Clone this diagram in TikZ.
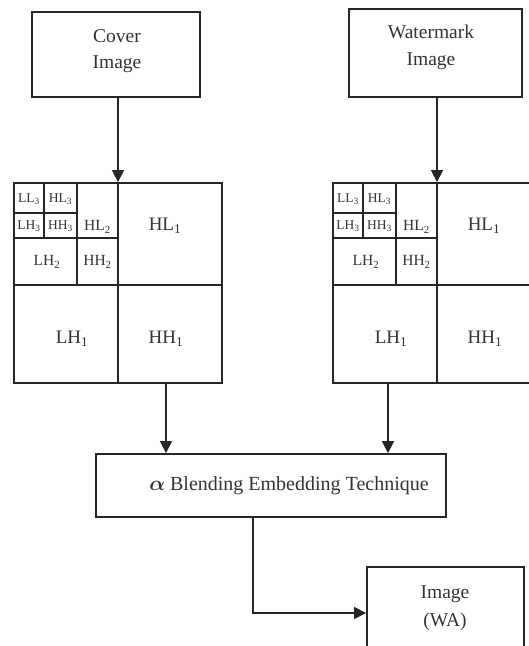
\documentclass[tikz,border=0pt]{standalone}
\usepackage{fontspec}
\setmainfont{Liberation Serif}
\usetikzlibrary{arrows.meta,calc}
\tikzset{
 box/.style={draw=black!85, line width=1.8pt, rectangle, inner sep=0pt},
 gl/.style={draw=black!85, line width=1.6pt},
 arr/.style={draw=black!85, line width=1.5pt, -{Triangle[length=12pt,width=12pt]}},
 lone/.style={font=\fontsize{19}{21}\selectfont, text=black!80, inner sep=0pt},
 ltwo/.style={font=\fontsize{15.5}{17}\selectfont, text=black!80, inner sep=0pt},
 lthree/.style={font=\fontsize{13.5}{15}\selectfont, text=black!80, inner sep=0pt},
 boxtext/.style={font=\fontsize{19.5}{26}\selectfont, text=black!80, inner sep=0pt, anchor=base},
}
\newcommand\dwtgrid[2]{%
 \begin{scope}[xshift=#1pt]
 \node[box, minimum width=208pt, minimum height=200pt] (#2) at (104,-283) {};
 \draw[gl] (104,-183) -- (104,-383);
 \draw[gl] (0,-285) -- (208,-285);
 \draw[gl] (63,-183) -- (63,-285);
 \draw[gl] (0,-238) -- (104,-238);
 \draw[gl] (30,-183) -- (30,-238);
 \draw[gl] (0,-213) -- (63,-213);
 \node[lthree] (#2ll3) at (15,-199) {LL\textsubscript{3}};
 \node[lthree] (#2hl3) at (46.5,-199) {HL\textsubscript{3}};
 \node[lthree] (#2lh3) at (15,-226) {LH\textsubscript{3}};
 \node[lthree] (#2hh3) at (46.5,-226) {HH\textsubscript{3}};
 \node[ltwo] (#2hl2) at (83.5,-227) {HL\textsubscript{2}};
 \node[ltwo] (#2lh2) at (33,-262) {LH\textsubscript{2}};
 \node[ltwo] (#2hh2) at (83.5,-262) {HH\textsubscript{2}};
 \node[lone] (#2hl1) at (151,-226) {HL\textsubscript{1}};
 \node[lone] (#2lh1) at (58,-339) {LH\textsubscript{1}};
 \node[lone] (#2hh1) at (152,-339) {HH\textsubscript{1}};
 \end{scope}}
\begin{document}
\begin{tikzpicture}[x=1pt,y=1pt]
\clip (0,0) rectangle (529,-646);
\fill[white] (0,0) rectangle (529,-646);
% source boxes
\node[box, minimum width=168pt, minimum height=85pt] (cover) at (116,-54.5) {};
\node[boxtext] (cover1) at (117,-42) {Cover};
\node[boxtext] (cover2) at (117,-68) {Image};
\node[box, minimum width=173pt, minimum height=88pt] (wm) at (435.5,-53) {};
\node[boxtext] (wm1) at (431,-38) {Watermark};
\node[boxtext] (wm2) at (431,-65) {Image};
% DWT grids
\dwtgrid{14}{gridL}
\dwtgrid{333}{gridR}
% blending box
\node[box, minimum width=350pt, minimum height=63pt] (blend) at (271,-485.5) {};
\node[font=\fontsize{20}{24}\selectfont, text=black!80, inner sep=0pt, anchor=base] (blendt) at (289,-490) {{\boldmath$\alpha$} Blending Embedding Technique};
% output box
\node[box, minimum width=157pt, minimum height=113pt] (out) at (445.5,-623.5) {};
\node[boxtext] (out1) at (445,-598) {Image};
\node[boxtext] (out2) at (445,-626) {(WA)};
% connectors
\draw[arr] (cover.south -| gridL.north) -- (gridL.north);
\draw[arr] (wm.south -| gridR.north) -- (gridR.north);
\draw[arr] ([xshift=48pt]gridL.south) -- ([xshift=48pt]gridL.south |- blend.north);
\draw[arr] ([xshift=-49pt]gridR.south) -- ([xshift=-49pt]gridR.south |- blend.north);
\draw[arr] ([xshift=-18pt]blend.south) |- ([yshift=10.5pt]out.west);
\end{tikzpicture}
\end{document}
